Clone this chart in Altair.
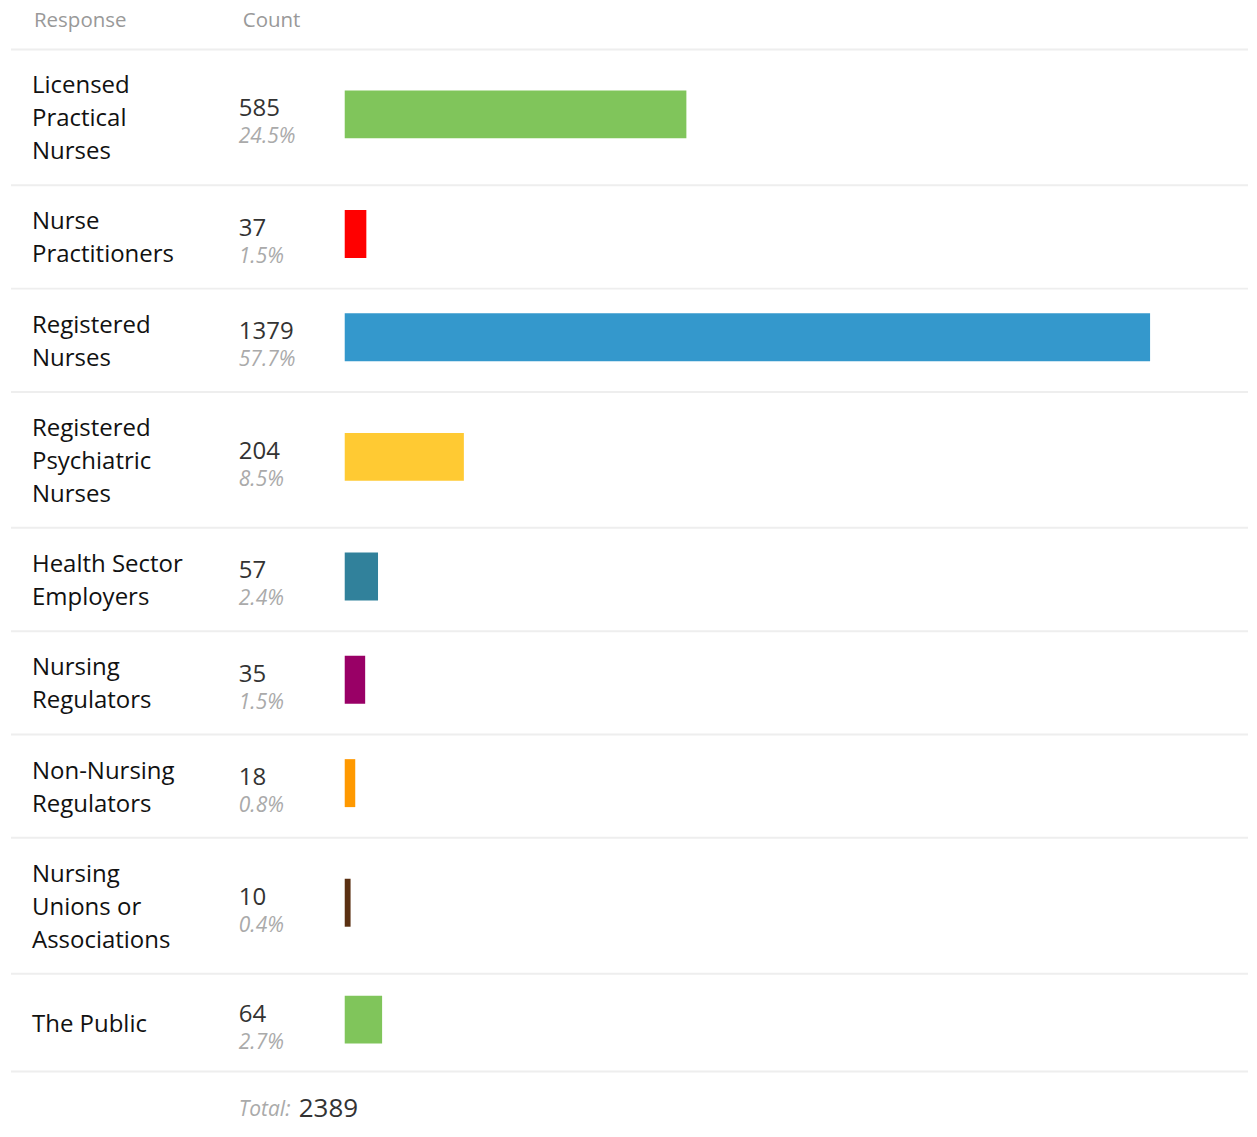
import altair as alt
import pandas as pd

# ---- data ----
responses = [
    "Licensed\nPractical\nNurses",
    "Nurse\nPractitioners",
    "Registered\nNurses",
    "Registered\nPsychiatric\nNurses",
    "Health Sector\nEmployers",
    "Nursing\nRegulators",
    "Non-Nursing\nRegulators",
    "Nursing\nUnions or\nAssociations",
    "The Public",
]
counts = [585, 37, 1379, 204, 57, 35, 18, 10, 64]
percents = ["24.5%", "1.5%", "57.7%", "8.5%", "2.4%", "1.5%", "0.8%", "0.4%", "2.7%"]
colors = ["#80c55b", "#ff0000", "#3498cc", "#ffca33", "#31819b",
          "#990066", "#ff9900", "#5a3012", "#80c55b"]
header_labels = ["Response", "Count"]
total_label = "Total:"
total_value = 2389

# ---- layout (pixels) ----
W, H = 1241, 1121
HEADER_BOTTOM = 41
ROW_H = {3: 136, 2: 103.4, 1: 98}
BAR_H = 48
LINE_H = 33

tops, bottoms, nlines = [], [], []
y = HEADER_BOTTOM
for r in responses:
    n = r.count("\n") + 1
    nlines.append(n)
    tops.append(y)
    y += ROW_H[n]
    bottoms.append(y)

centers = [(t + b) / 2 for t, b in zip(tops, bottoms)]
df = pd.DataFrame({
    "response": responses,
    "count": counts,
    "pct": percents,
    "color": colors,
    "label_y": [c + 2 - (n - 1) * LINE_H / 2 for c, n in zip(centers, nlines)],
    "count_y": [c - 8 for c in centers],
    "pct_y": [c + 20 for c in centers],
    "bar_top": [c - 3 - BAR_H / 2 for c in centers],
    "bar_bot": [c - 3 + BAR_H / 2 for c in centers],
})

lines_df = pd.DataFrame({"yline": [HEADER_BOTTOM] + bottoms})

yscale = alt.Scale(domain=[0, H], range=[0, H])
FONT = "Open Sans"

base = alt.Chart(df)

bars = base.mark_rect().encode(
    x=alt.X("zero:Q", scale=alt.Scale(domain=[0, 1379], range=[337, 1143]), axis=None),
    x2=alt.X2("count:Q"),
    y=alt.Y("bar_top:Q", scale=yscale, axis=None),
    y2="bar_bot:Q",
    color=alt.Color("color:N", scale=None, legend=None),
).transform_calculate(zero="0")

labels = base.mark_text(
    align="left", baseline="middle", lineBreak="\n", font=FONT,
    fontSize=24, lineHeight=LINE_H, color="#111111",
).encode(x=alt.value(24), y=alt.Y("label_y:Q", scale=yscale, axis=None), text="response:N")

count_text = base.mark_text(
    align="left", baseline="middle", font=FONT, fontSize=24, color="#333333",
).encode(x=alt.value(231), y=alt.Y("count_y:Q", scale=yscale, axis=None), text="count:Q")

pct_text = base.mark_text(
    align="left", baseline="middle", font=FONT, fontSize=21, fontStyle="italic", color="#aaaaaa",
).encode(x=alt.value(231), y=alt.Y("pct_y:Q", scale=yscale, axis=None), text="pct:N")

rules = alt.Chart(lines_df).mark_rule(color="#eeeeee", strokeWidth=2).encode(
    x=alt.value(3), x2=alt.value(W),
    y=alt.Y("yline:Q", scale=yscale, axis=None),
)

hdr1 = alt.Chart(pd.DataFrame({"t": [header_labels[0]]})).mark_text(
    align="left", baseline="middle", font=FONT, fontSize=20.5, color="#999999",
).encode(x=alt.value(26), y=alt.value(13), text="t:N")
hdr2 = alt.Chart(pd.DataFrame({"t": [header_labels[1]]})).mark_text(
    align="left", baseline="middle", font=FONT, fontSize=20.5, color="#999999",
).encode(x=alt.value(235), y=alt.value(13), text="t:N")

tot1 = alt.Chart(pd.DataFrame({"t": [total_label]})).mark_text(
    align="left", baseline="middle", font=FONT, fontSize=21, fontStyle="italic", color="#aaaaaa",
).encode(x=alt.value(231), y=alt.value(1102), text="t:N")
tot2 = alt.Chart(pd.DataFrame({"t": [str(total_value)]})).mark_text(
    align="left", baseline="middle", font=FONT, fontSize=26, color="#333333",
).encode(x=alt.value(291), y=alt.value(1101), text="t:N")

chart = alt.layer(rules, bars, labels, count_text, pct_text, hdr1, hdr2, tot1, tot2).resolve_scale(
    x="independent"
).properties(
    width=W, height=H, padding=0, background="white"
).configure_view(stroke=None)

chart.save("out.html", embed_options={"renderer": "svg", "actions": False})
